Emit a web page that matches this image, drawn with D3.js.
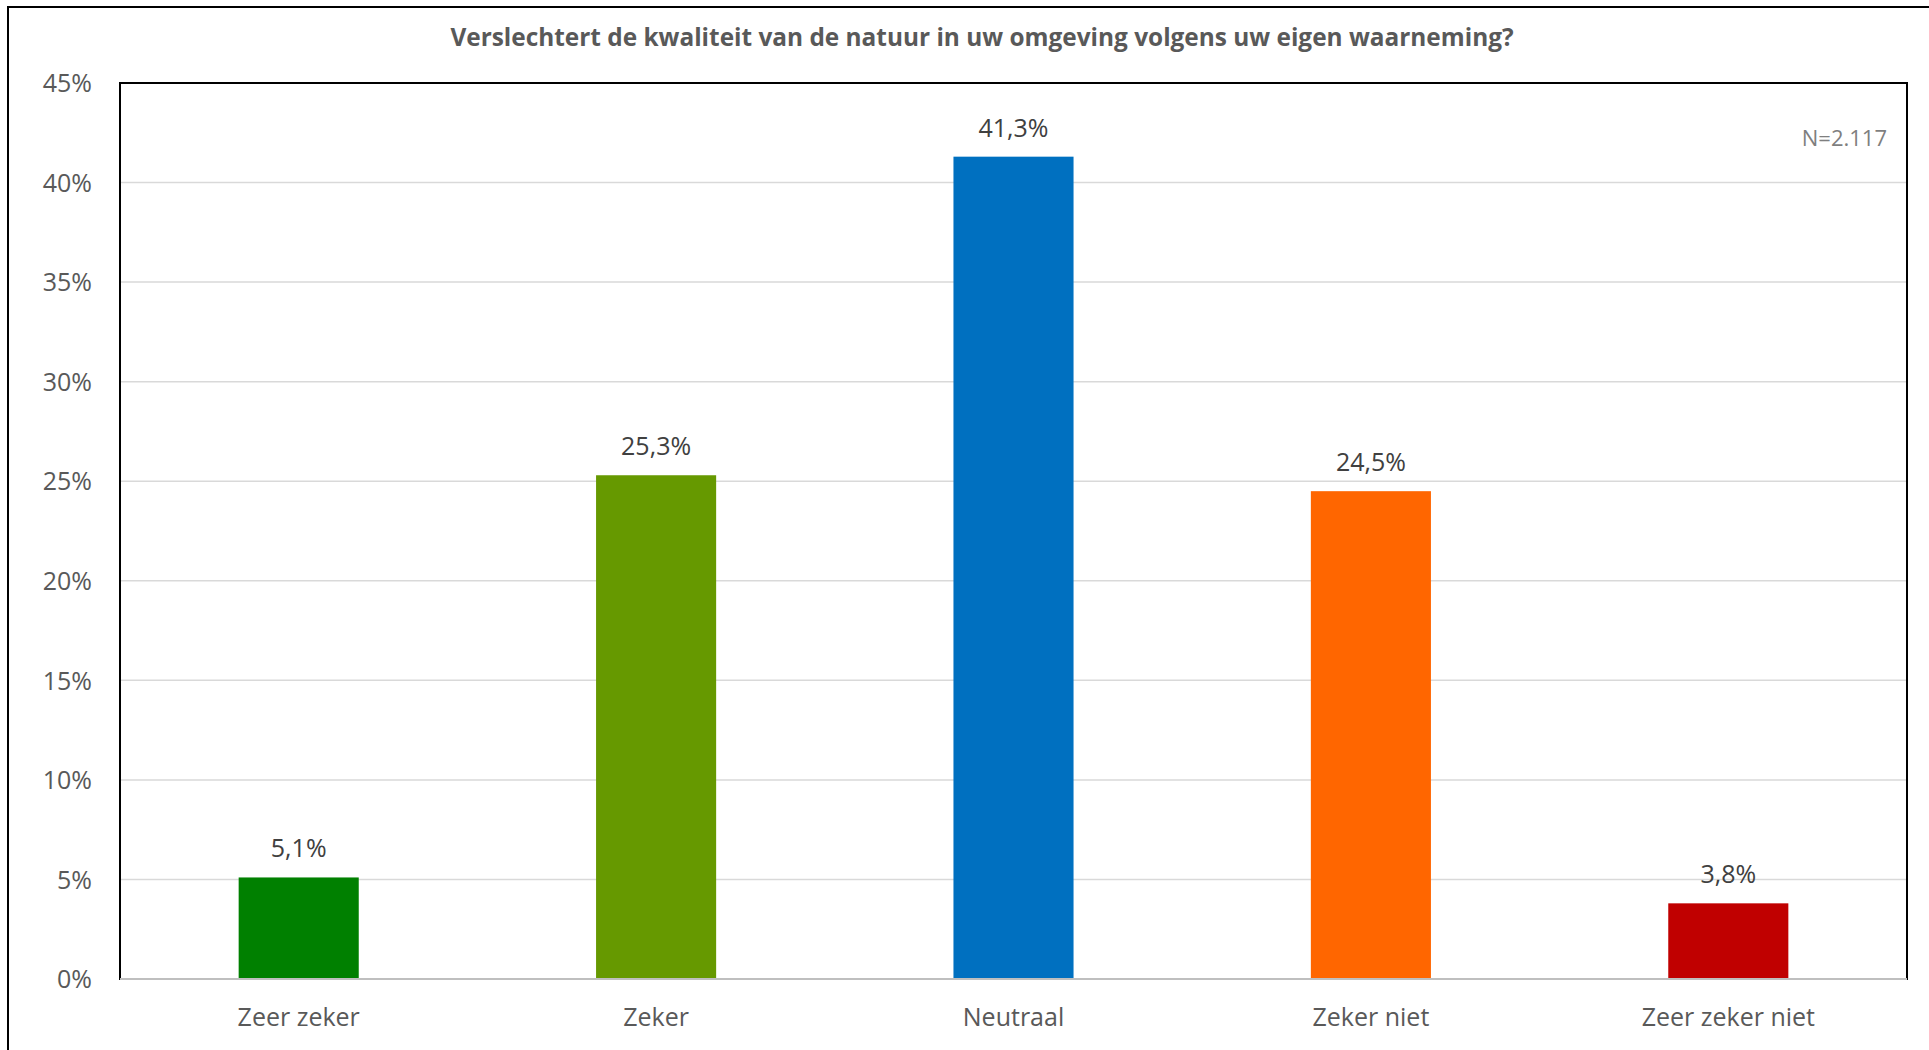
<!DOCTYPE html>
<html><head><meta charset="utf-8">
<script src="https://cdn.jsdelivr.net/npm/d3@7"></script>
<style>html,body{margin:0;padding:0;background:#fff;overflow:hidden}svg{display:block}</style>
</head><body>
<script>
const categories = ["Zeer zeker", "Zeker", "Neutraal", "Zeker niet", "Zeer zeker niet"];
const values = [5.1, 25.3, 41.3, 24.5, 3.8];
const labels = ["5,1%", "25,3%", "41,3%", "24,5%", "3,8%"];
const colors = ["#008000", "#669900", "#0070C0", "#FF6600", "#C00000"];
const yTicks = [0, 5, 10, 15, 20, 25, 30, 35, 40, 45];
const title = "Verslechtert de kwaliteit van de natuur in uw omgeving volgens uw eigen waarneming?";
const note = "N=2.117";

const W = 1929, H = 1050;
const font = "'Open Sans', 'Noto Sans', sans-serif";
const svg = d3.select("body").append("svg").attr("width", W).attr("height", H);

// outer frame
svg.append("rect").attr("x", 8).attr("y", 7).attr("width", 1960).attr("height", 1080)
  .attr("fill", "#fff").attr("stroke", "#000").attr("stroke-width", 2);

const plot = {left: 120, right: 1907, top: 83, bottom: 979};
const x = d3.scaleBand().domain(categories).range([plot.left, plot.right])
  .paddingInner(0.664).paddingOuter(0.332);
const y = d3.scaleLinear().domain([0, 45]).range([plot.bottom, plot.top]);

// gridlines
svg.append("g").selectAll("line").data(yTicks.filter(d => d > 0 && d < 45)).join("line")
  .attr("x1", plot.left).attr("x2", plot.right)
  .attr("y1", d => y(d)).attr("y2", d => y(d))
  .attr("stroke", "#d9d9d9").attr("stroke-width", 1.5);

// plot border
svg.append("rect").attr("x", plot.left).attr("y", plot.top)
  .attr("width", plot.right - plot.left).attr("height", plot.bottom - plot.top)
  .attr("fill", "none").attr("stroke", "#000").attr("stroke-width", 2);

// bars
svg.append("g").selectAll("rect").data(categories).join("rect")
  .attr("x", d => x(d)).attr("width", x.bandwidth())
  .attr("y", (d, i) => y(values[i])).attr("height", (d, i) => y(0) - y(values[i]))
  .attr("fill", (d, i) => colors[i]);

// x axis line
svg.append("line").attr("x1", plot.left).attr("x2", plot.right)
  .attr("y1", y(0)).attr("y2", y(0)).attr("stroke", "#bfbfbf").attr("stroke-width", 2);

// y axis
const yAxis = d3.axisLeft(y).tickValues(yTicks).tickFormat(d => d + "%").tickSize(0).tickPadding(0);
const ya = svg.append("g").attr("transform", `translate(92,0)`).call(yAxis);
ya.select(".domain").remove();
ya.selectAll("text").attr("font-family", font).attr("font-size", 25).attr("fill", "#595959")
  .attr("dy", "0.35em");

// x axis labels
const xAxis = d3.axisBottom(x).tickSize(0).tickPadding(0);
const xa = svg.append("g").attr("transform", `translate(0,1026)`).call(xAxis);
xa.select(".domain").remove();
xa.selectAll("text").attr("font-family", font).attr("font-size", 25).attr("fill", "#595959")
  .attr("dy", 0).attr("y", 0);

// data labels
svg.append("g").selectAll("text").data(categories).join("text")
  .attr("x", d => x(d) + x.bandwidth() / 2)
  .attr("y", (d, i) => y(values[i]) - 20)
  .attr("text-anchor", "middle").attr("font-family", font).attr("font-size", 25)
  .attr("fill", "#404040").text((d, i) => labels[i]);

// title
const t = svg.append("text").attr("x", 982).attr("y", 46).attr("text-anchor", "middle")
  .attr("font-family", font).attr("font-weight", "bold").attr("font-size", 24)
  .attr("fill", "#595959").text(title);
const tw = t.node().getComputedTextLength();
t.attr("font-size", 24 * 1064 / tw);

// N note
svg.append("text").attr("x", 1887).attr("y", 146).attr("text-anchor", "end")
  .attr("font-family", font).attr("font-size", 22).attr("fill", "#7f7f7f").text(note);
</script>
</body></html>
